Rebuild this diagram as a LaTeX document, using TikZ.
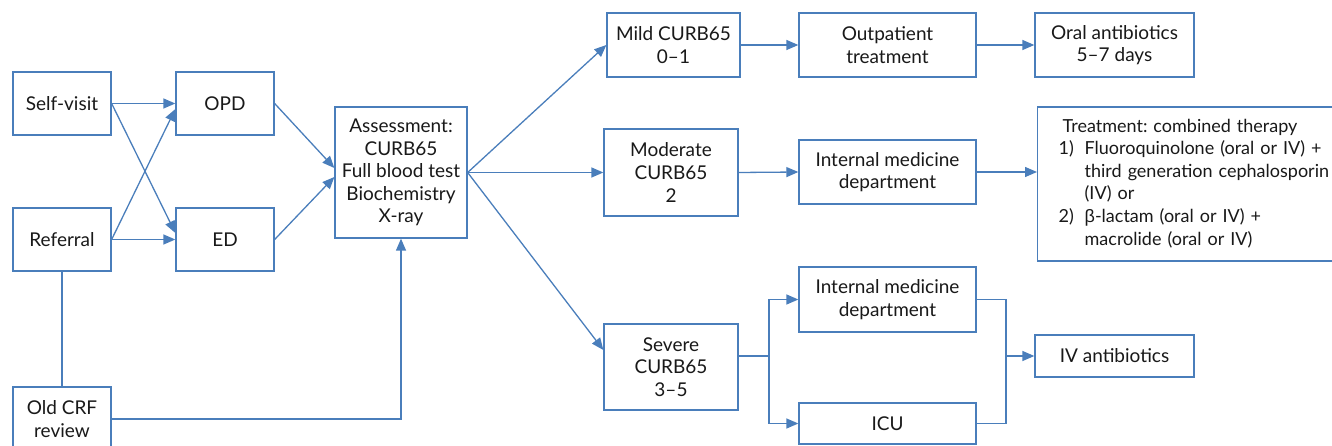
\documentclass[tikz,border=0pt]{standalone}
\usepackage{fontspec}
\setmainfont{Lato}
\newfontfamily\grk{Liberation Sans}
\usetikzlibrary{arrows.meta}
\definecolor{lineblue}{RGB}{74,126,187}
\definecolor{txt}{RGB}{25,25,25}
\frenchspacing
\begin{document}
\begin{tikzpicture}[x=1pt,y=-1pt,
  box/.style={draw=lineblue, line width=1.3pt, fill=white, text=txt, align=center,
    inner sep=0pt, font=\fontsize{19}{22.6}\selectfont},
  conn/.style={draw=lineblue, line width=1.3pt},
  arr/.style={conn, -{Triangle[length=12pt,width=10pt]}}]
\useasboundingbox (0,0) rectangle (1332,446);
\clip (0,0) rectangle (1332,446);

% left column
\node[box, minimum width=98pt, minimum height=63pt] (self) at (62,103.5) {Self-visit};
\node[box, minimum width=98pt, minimum height=63pt] (ref) at (62,239.5) {Referral};
\node[box, minimum width=98pt, minimum height=64pt] (crf) at (62,419) {Old CRF\\review};
\node[box, minimum width=98pt, minimum height=63pt] (opd) at (225,103.5) {OPD};
\node[box, minimum width=98pt, minimum height=63pt] (ed) at (225,239.5) {ED};
\node[box, minimum width=132pt, minimum height=131pt] (assess) at (401,172.5)
  {Assessment:\\CURB65\\Full blood test\\Biochemistry\\X-ray};

% severity
\node[box, minimum width=133pt, minimum height=64pt] (mild) at (673.5,45) {Mild CURB65\\0--1};
\node[box, minimum width=134pt, minimum height=87pt] (mod) at (671,172.5) {Moderate\\CURB65\\2};
\node[box, minimum width=134pt, minimum height=86pt] (sev) at (671,367) {Severe\\CURB65\\3--5};

% third column
\node[box, minimum width=177pt, minimum height=64pt] (out) at (887.5,45) {Outpatient\\treatment};
\node[box, minimum width=177pt, minimum height=64pt] (imm) at (887.5,172) {Internal medicine\\department};
\node[box, minimum width=177pt, minimum height=65pt] (ims) at (887.5,299.5) {Internal medicine\\department};
\node[box, minimum width=177pt, minimum height=41pt] (icu) at (887.5,423.5) {ICU};

% fourth column
\node[box, minimum width=159pt, minimum height=64pt] (oral) at (1114.5,45) {Oral antibiotics\\5--7 days};
\node[box, minimum width=159pt, minimum height=42pt] (iv) at (1114.5,356) {IV antibiotics};
\node[box, anchor=west, align=left, inner xsep=21pt, text width=300pt, minimum height=154pt,
      font=\fontsize{18}{22.6}\selectfont] (treat) at (1037,184)
  {\begin{tabular}{@{}p{26pt}@{}l@{}}
   \multicolumn{2}{@{\hspace{4pt}}l}{Treatment: combined therapy}\\
   1) & Fluoroquinolone (oral or IV) +\\
      & third generation cephalosporin\\
      & (IV) or\\
   2) & {\grk β}-lactam (oral or IV) +\\
      & macrolide (oral or IV)
   \end{tabular}};

% connectors left
\draw[arr] (self.east) -- (opd.west);
\draw[arr] (self.east) -- ([yshift=6.5pt]ed.west);
\draw[arr] (ref.east) -- ([yshift=-5.5pt]opd.west);
\draw[arr] (ref.east) -- (ed.west);
\draw[arr] (opd.east) -- ([yshift=4.5pt]assess.west);
\draw[arr] (ed.east) -- ([yshift=-4.5pt]assess.west);
\draw[conn] (ref.south) -- (crf.north);
\draw[arr] (crf.east) -| (assess.south);

% connectors to severity
\draw[arr] (assess.east) -- (mild.west);
\draw[arr] (assess.east) -- (mod.west);
\draw[arr] (assess.east) -- ([yshift=17pt]sev.west);

% rows
\draw[arr] (mild.east) -- (out.west);
\draw[arr] (out.east) -- (oral.west);
\draw[arr] (mod.east) -- (imm.west);
\draw[arr] (imm.east) -- (treat.west |- imm.east);

% severe branch
\coordinate (split) at (769,356);
\coordinate (merge) at (1006,356);
\draw[conn] ([yshift=11pt]sev.east) -- (split);
\draw[arr] (split) |- (ims.west);
\draw[arr] (split) |- (icu.west);
\draw[conn] (ims.east) -| (merge);
\draw[conn] (icu.east) -| (merge);
\draw[arr] (merge) -- (iv.west);
\end{tikzpicture}
\end{document}
